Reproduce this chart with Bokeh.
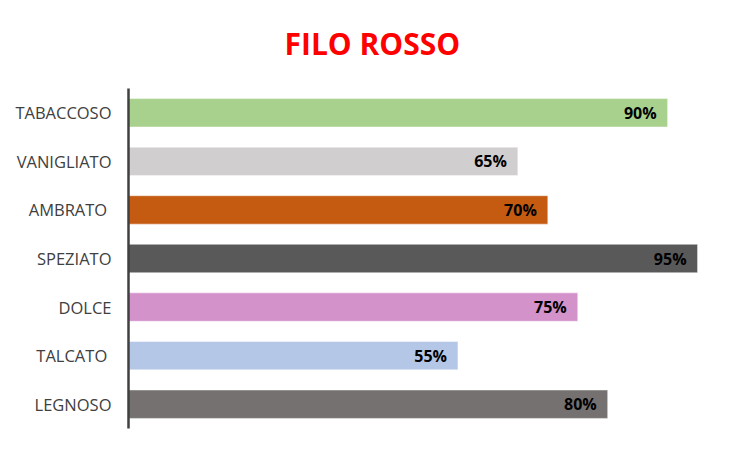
from bokeh.plotting import figure
from bokeh.models import FactorRange, ColumnDataSource, Title
from bokeh.core.properties import value
from bokeh.embed import file_html
from bokeh.resources import INLINE

categories = ["TABACCOSO", "VANIGLIATO", "AMBRATO ", "SPEZIATO", "DOLCE", "TALCATO ", "LEGNOSO"]
values = [90, 65, 70, 95, 75, 55, 80]
labels = ["90%", "65%", "70%", "95%", "75%", "55%", "80%"]
colors = ["#A9D18E", "#D0CECE", "#C55A11", "#595959", "#D492CB", "#B4C7E7", "#767171"]
title_text = "FILO ROSSO"

src = ColumnDataSource(dict(cat=categories, val=values, lab=labels, col=colors))

p = figure(width=744, height=444, output_backend="svg", toolbar_location=None,
           y_range=FactorRange(factors=list(reversed(categories))),
           x_range=(0, 100), min_border_left=128, min_border_right=17,
           min_border_top=88, min_border_bottom=16)
p.title = None
t = Title(text=title_text, align="left", offset=156, vertical_align="top",
          text_color="#FF0000", text_font="Open Sans", text_font_size="30px",
          text_font_style="bold", standoff=45)
p.add_layout(t, "above")

p.hbar(y="cat", right="val", left=0, height=0.585, fill_color="col",
       line_color="white", line_alpha=0.45, line_width=1, source=src)
p.text(x="val", y="cat", text="lab", x_offset=-11, text_align="right",
       text_baseline="middle", text_font=value("Open Sans"), text_font_style="bold",
       text_font_size="16px", text_color="black", source=src)

p.xaxis.visible = False
p.xgrid.visible = False
p.ygrid.visible = False
p.outline_line_color = None
p.yaxis.axis_line_color = "#404040"
p.yaxis.axis_line_width = 2.5
p.yaxis.major_tick_line_color = None
p.yaxis.minor_tick_line_color = None
p.yaxis.major_tick_out = 0
p.yaxis.major_label_standoff = 17
p.yaxis.major_label_text_font = "Open Sans"
p.yaxis.major_label_text_font_size = "16.5px"
p.yaxis.major_label_text_color = "#404040"
p.y_range.range_padding = 0

open("out.html", "w").write(file_html(p, INLINE))
